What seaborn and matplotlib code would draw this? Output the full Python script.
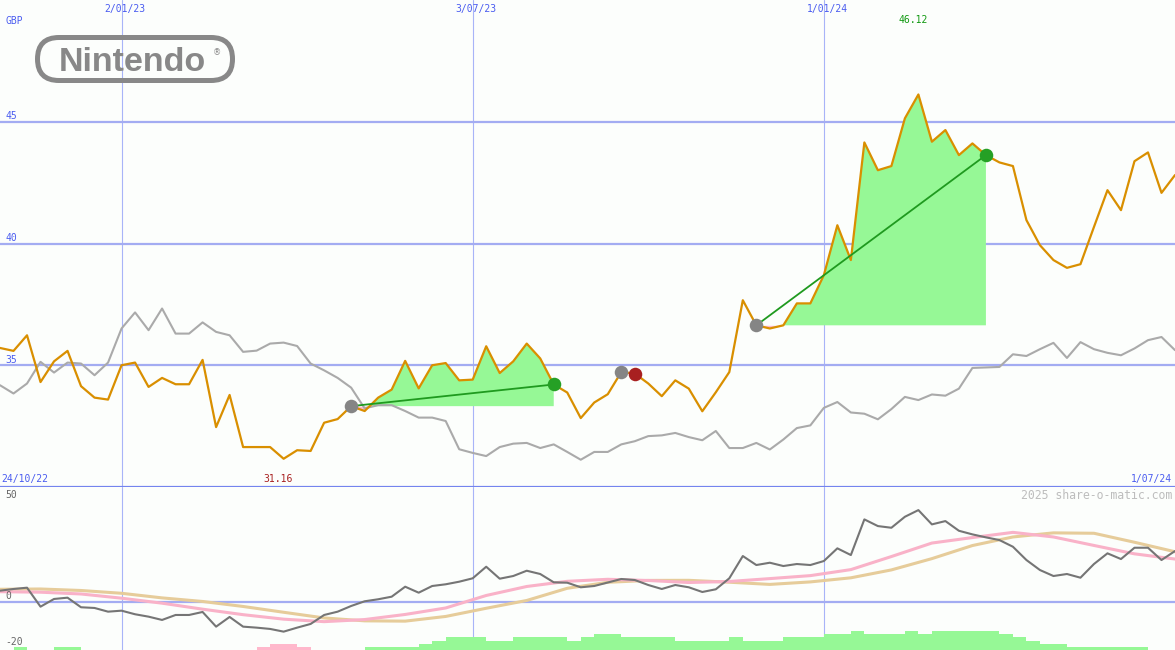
import numpy as np
import pandas as pd
import seaborn as sns
import matplotlib.pyplot as plt
import matplotlib.dates as mdates
import matplotlib.transforms as mtransforms
from matplotlib.patches import FancyBboxPatch

# weekly closes (GBP)
weeks = pd.date_range('2022-10-31', periods=88, freq='7D')

price = [35.71, 35.59, 36.23, 34.31, 35.16, 35.59, 34.14, 33.67, 33.59, 35.00,
         35.11, 34.11, 34.48, 34.22, 34.22, 35.22, 32.46, 33.78, 31.64, 31.64,
         31.64, 31.16, 31.51, 31.48, 32.64, 32.79, 33.32, 33.12, 33.67, 34.00,
         35.18, 34.05, 35.00, 35.09, 34.38, 34.41, 35.78, 34.68, 35.16, 35.89,
         35.28, 34.21, 33.88, 32.83, 33.47, 33.81, 34.72, 34.66, 34.25, 33.73,
         34.38, 34.04, 33.11, 33.89, 34.72, 37.67, 36.64, 36.51, 36.64, 37.54,
         37.54, 38.70, 40.75, 39.32, 44.15, 43.01, 43.18, 45.14, 46.12, 44.18,
         44.66, 43.63, 44.11, 43.63, 43.33, 43.18, 40.96, 39.93, 39.32, 39.00,
         39.15, 40.68, 42.19, 41.37, 43.38, 43.74, 42.08, 42.81]

# market comparison line (grey)
index_line = [34.18, 33.84, 34.25, 35.14, 34.70, 35.11, 35.07, 34.59, 35.11, 36.51,
              37.17, 36.44, 37.33, 36.30, 36.30, 36.76, 36.37, 36.23, 35.55, 35.60,
              35.89, 35.93, 35.79, 35.07, 34.79, 34.48, 34.08, 33.23, 33.36, 33.36,
              33.12, 32.85, 32.85, 32.71, 31.55, 31.40, 31.27, 31.64, 31.78, 31.81,
              31.60, 31.75, 31.44, 31.12, 31.44, 31.44, 31.75, 31.88, 32.09, 32.12,
              32.22, 32.05, 31.92, 32.30, 31.60, 31.60, 31.81, 31.54, 31.95, 32.42,
              32.53, 33.25, 33.49, 33.06, 33.01, 32.78, 33.20, 33.70, 33.57, 33.80,
              33.75, 34.04, 34.89, 34.91, 34.93, 35.45, 35.38, 35.66, 35.92, 35.30,
              35.95, 35.66, 35.51, 35.41, 35.69, 36.03, 36.16, 35.62]

# lower panel indicator
momentum = [4.75, 5.49, 6.05, -2.16, 1.17, 1.73, -2.42, -2.72, -4.32, -3.89,
            -5.44, -6.48, -7.90, -5.75, -5.75, -4.45, -10.80, -6.61, -10.80, -11.23,
            -11.79, -12.96, -11.23, -9.63, -5.75, -4.32, -1.86, 0.17, 1.04, 2.16,
            6.48, 3.89, 6.78, 7.52, 8.64, 10.11, 15.12, 9.94, 11.10, 13.39,
            11.97, 8.38, 8.21, 6.22, 6.78, 8.29, 9.81, 9.37, 7.21, 5.49,
            7.21, 6.22, 4.19, 5.36, 10.11, 19.74, 15.85, 16.85, 15.42, 16.29,
            15.85, 17.58, 23.07, 20.17, 35.59, 32.70, 31.97, 36.72, 39.61, 33.43,
            34.86, 30.67, 29.11, 27.82, 26.65, 23.76, 18.01, 13.69, 11.10, 11.97,
            10.37, 16.29, 20.91, 18.44, 23.33, 23.33, 18.01, 21.90]

# buy/sell pressure blocks (+ green, - pink)
flow = [0, 1, 0, 0, 1, 1, 0, 0, 0, 0,
        0, 0, 0, 0, 0, 0, 0, 0, 0, -1,
        -2, -2, -1, 0, 0, 0, 0, 1, 1, 1,
        1, 2, 3, 4, 4, 4, 3, 3, 4, 4,
        4, 4, 3, 4, 5, 5, 4, 4, 4, 4,
        3, 3, 3, 3, 4, 3, 3, 3, 4, 4,
        4, 5, 5, 6, 5, 5, 5, 6, 5, 6,
        6, 6, 6, 6, 5, 4, 3, 2, 2, 1,
        1, 1, 1, 1, 1, 0, 0, 0]

# smoothed averages, read every third week
ma_weeks = list(range(0, 88, 3))
ma_fast = [4.32, 4.10, 3.33, 1.51, -0.65, -3.24, -5.62, -7.56, -8.64, -7.73,
           -5.53, -2.72, 2.68, 6.57, 8.81, 9.68, 9.16, 8.29, 8.73, 9.98,
           11.27, 13.87, 19.52, 25.36, 27.73, 29.98, 27.99, 24.32, 20.69, 18.44]
ma_slow = [5.36, 5.49, 4.84, 3.63, 1.64, 0.09, -2.07, -4.58, -7.04, -8.29,
           -8.42, -6.39, -2.85, 0.52, 5.79, 8.38, 9.20, 9.24, 8.42, 7.47,
           8.55, 10.32, 13.74, 18.62, 24.28, 27.99, 29.76, 29.59, 25.70, 21.60]

trades = [(26, 41), (46, 47), (56, 73)]   # (entry week, exit week)

grid_dates = ['2023-01-02', '2023-07-03', '2024-01-01']
grid_labels = ['2/01/23', '3/07/23', '1/01/24']
price_levels = [35, 40, 45]
osc_levels = [50, 0, -20]

BG = '#fcfefc'
HGRID = '#a3acf2'
VGRID = '#a8b4f8'
BLUE = '#4a5cf0'
ORANGE = '#d98f00'

df = pd.DataFrame({'date': weeks, 'price': price, 'index': index_line, 'mom': momentum})
ma_df = pd.DataFrame({'date': weeks[ma_weeks], 'fast': ma_fast, 'slow': ma_slow})

sns.set_theme(style='white')
plt.rcParams['font.family'] = ['DejaVu Sans Mono']

fig = plt.figure(figsize=(11.75, 6.5), dpi=100)
fig.patch.set_facecolor(BG)
ax = fig.add_axes([0, 163 / 650, 1, 487 / 650])
ax2 = fig.add_axes([0, 0, 1, 163 / 650], sharex=ax)

for a in (ax, ax2):
    a.set_facecolor(BG)
    for d in grid_dates:
        a.axvline(pd.Timestamp(d), color=VGRID, lw=0.8, zorder=0)
    for s in a.spines.values():
        s.set_visible(False)
for lv in price_levels:
    ax.axhline(lv, color=HGRID, lw=1.6, zorder=0)
ax2.axhline(0, color=HGRID, lw=1.6, zorder=0)

# trades
for a_i, b_i in trades:
    seg = df.iloc[a_i:b_i + 1]
    entry = price[a_i]
    ax.fill_between(seg['date'], seg['price'], entry, where=seg['price'] >= entry,
                    interpolate=True, color='#96f896', lw=0, zorder=1)
    ax.fill_between(seg['date'], seg['price'], entry, where=seg['price'] < entry,
                    interpolate=True, color='#ffb8cc', lw=0, zorder=1)

sns.lineplot(data=df, x='date', y='index', ax=ax, color='#aaaaaa', lw=1.5, zorder=2)
sns.lineplot(data=df, x='date', y='price', ax=ax, color=ORANGE, lw=1.6, zorder=3)

for a_i, b_i in trades:
    entry, exit_ = price[a_i], price[b_i]
    win = exit_ >= entry
    if b_i - a_i > 1:
        ax.plot([weeks[a_i], weeks[b_i]], [entry, exit_], color='#1f9a1f', lw=1.3, zorder=4)
    ax.scatter([weeks[a_i]], [entry], s=95, color='#858585', zorder=5, lw=0)
    ax.scatter([weeks[b_i]], [exit_], s=95, color='#25a025' if win else '#a82020', zorder=5, lw=0)

ax.set_xlim(weeks[0], weeks[-1])
ax.set_ylim(30, 50)
ax.spines['bottom'].set_visible(True)
ax.spines['bottom'].set_color('#7484ee')
ax.spines['bottom'].set_linewidth(1.6)

# lower panel
y_lo, y_hi = -20.9, 49.6
colors = ['#96f896' if v > 0 else '#ffb8cc' for v in flow]
ax2.bar(weeks, [abs(v) * 1.36 for v in flow], width=pd.Timedelta(days=7), align='edge',
        bottom=y_lo, color=colors, lw=0, zorder=1)
sns.lineplot(data=ma_df, x='date', y='slow', ax=ax2, color='#e6cc9a', lw=2.2, zorder=2)
sns.lineplot(data=ma_df, x='date', y='fast', ax=ax2, color='#f9b2c8', lw=2.2, zorder=2)
sns.lineplot(data=df, x='date', y='mom', ax=ax2, color='#757575', lw=1.5, zorder=3)
ax2.set_ylim(y_lo, y_hi)

for a in (ax, ax2):
    a.set_xticks([])
    a.set_yticks([])
    a.set_xlabel('')
    a.set_ylabel('')

# labels
xt = ax.get_xaxis_transform()
for d, lab in zip(grid_dates, grid_labels):
    ax.annotate(lab, (mdates.date2num(pd.Timestamp(d)), 0.981), xycoords=xt, xytext=(2.5, 0),
                textcoords='offset points', ha='center', va='center', color=BLUE, fontsize=7)
yt = mtransforms.blended_transform_factory(ax.transAxes, ax.transData)
for lv in price_levels:
    ax.annotate(str(lv), (0.0045, lv), xycoords=yt, xytext=(0, 3.8), textcoords='offset points',
                ha='left', va='center', color=BLUE, fontsize=7)
ax.text(0.0045, 0.957, 'GBP', transform=ax.transAxes, ha='left', va='center', color=BLUE, fontsize=7)
ax.text(0.0015, 0.0158, '24/10/22', transform=ax.transAxes, ha='left', va='center', color=BLUE, fontsize=7)
ax.text(0.9975, 0.0158, '1/07/24', transform=ax.transAxes, ha='right', va='center', color=BLUE, fontsize=7)

lo_i = int(np.argmin(price))
hi_i = int(np.argmax(price))
ax.annotate(f'{price[lo_i]:.2f}', (mdates.date2num(weeks[lo_i]), 0.0158), xycoords=xt, xytext=(-4, 0),
            textcoords='offset points', ha='center', va='center', color='#a82020', fontsize=7)
ax.annotate(f'{price[hi_i]:.2f}', (mdates.date2num(weeks[hi_i]), 0.959), xycoords=xt, xytext=(-4, 0),
            textcoords='offset points', ha='center', va='center', color='#119911', fontsize=7)

yt2 = mtransforms.blended_transform_factory(ax2.transAxes, ax2.transData)
for lv, off in zip(osc_levels, [-6.5, 4.2, 4.2]):
    ax2.annotate(str(lv), (0.0045, lv), xycoords=yt2, xytext=(0, off), textcoords='offset points',
                 ha='left', va='center', color='#666666', fontsize=7)
ax2.text(0.9975, 0.945, '2025 share-o-matic.com', transform=ax2.transAxes, ha='right',
         va='center', color='#bdbdbd', fontsize=8.3)

# Nintendo logo
logo = FancyBboxPatch((0.375, 5.695), 1.95, 0.43, boxstyle='round,pad=0,rounding_size=0.215',
                      transform=fig.dpi_scale_trans, fc='none', ec='#888888', lw=3.6)
fig.add_artist(logo)
fig.text(1.32, 5.79, 'Nintendo', transform=fig.dpi_scale_trans, ha='center', va='baseline',
         color='#888888', fontsize=24.5, fontweight='bold', family='Liberation Sans')
fig.text(2.165, 5.97, '®', transform=fig.dpi_scale_trans, ha='center', va='center',
         color='#888888', fontsize=6, family='DejaVu Sans')

fig.savefig('out.png', dpi=100, facecolor=BG)
